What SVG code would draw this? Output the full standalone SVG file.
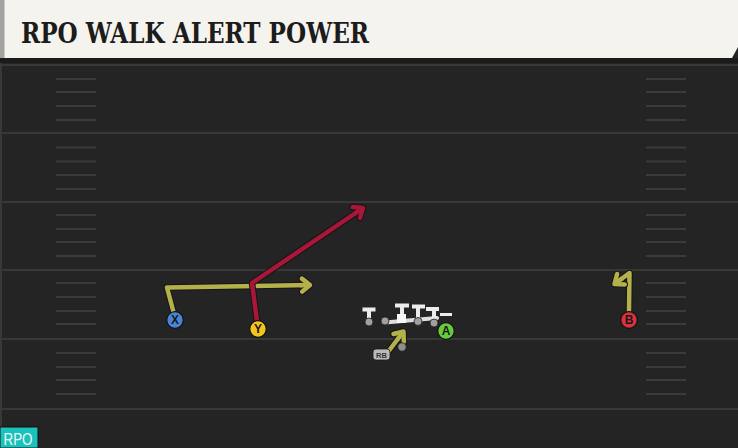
<svg xmlns="http://www.w3.org/2000/svg" width="738" height="448" viewBox="0 0 738 448">
<style>
.yl{stroke:#383838;stroke-width:2}
.hm{stroke:#3b3b3b;stroke-width:2}
.out{fill:none;stroke:#151515;stroke-width:6.5;stroke-linejoin:round}
.olive{fill:none;stroke:#b4b14b;stroke-width:4.5;stroke-linejoin:round}
.red{fill:none;stroke:#a8163a;stroke-width:4.5;stroke-linejoin:round}
.pl{stroke:#141414;stroke-width:1.3}
.lt{font-family:"Liberation Sans",Arial,sans-serif;font-weight:bold;font-size:12px;fill:#1a1a1a;text-anchor:middle}
.blk{fill:#ececec}
.dot{fill:#a0a0a0;stroke:#1e1e1e;stroke-width:0.8}
</style>
<defs>
<marker id="ao" markerUnits="userSpaceOnUse" orient="auto" refX="0" refY="0" markerWidth="1" markerHeight="1" style="overflow:visible">
<path d="M-8,-6.5 L0,0 L-8,6.5" fill="none" stroke="#151515" stroke-width="6.5" stroke-linejoin="round" stroke-linecap="round"/>
<path d="M-10,0 L0,0" fill="none" stroke="#b4b14b" stroke-width="4.5"/>
<path d="M-8,-6.5 L0,0 L-8,6.5" fill="none" stroke="#b4b14b" stroke-width="4.5" stroke-linejoin="round" stroke-linecap="round"/>
</marker>
<marker id="ar" markerUnits="userSpaceOnUse" orient="auto" refX="0" refY="0" markerWidth="1" markerHeight="1" style="overflow:visible">
<path d="M-8,-6.5 L0,0 L-8,6.5" fill="none" stroke="#151515" stroke-width="6.5" stroke-linejoin="round" stroke-linecap="round"/>
<path d="M-10,0 L0,0" fill="none" stroke="#a8163a" stroke-width="4.5"/>
<path d="M-8,-6.5 L0,0 L-8,6.5" fill="none" stroke="#a8163a" stroke-width="4.5" stroke-linejoin="round" stroke-linecap="round"/>
</marker>
</defs>

<g id="field">
<rect x="0" y="0" width="738" height="448" fill="#242424"/>
<rect x="0" y="58" width="738" height="5" fill="#1b1b1b"/>
<rect x="0" y="63" width="2" height="385" fill="#383838"/>
<g class="yl">
<line x1="0" y1="65" x2="738" y2="65"/>
<line x1="0" y1="133" x2="738" y2="133"/>
<line x1="0" y1="202" x2="738" y2="202"/>
<line x1="0" y1="270" x2="738" y2="270"/>
<line x1="0" y1="339" x2="738" y2="339"/>
<line x1="0" y1="409" x2="738" y2="409"/>
</g>
<g class="hm">
<path d="M56,79H96M56,92H96M56,106H96M56,120H96M56,147.5H96M56,161.5H96M56,175H96M56,189H96M56,215H96M56,229H96M56,242H96M56,256H96M56,283H96M56,297H96M56,311H96M56,324H96M56,353H96M56,367H96M56,380H96M56,394H96"/>
<path d="M646,79H686M646,92H686M646,106H686M646,120H686M646,147.5H686M646,161.5H686M646,175H686M646,189H686M646,215H686M646,229H686M646,242H686M646,256H686M646,283H686M646,297H686M646,311H686M646,324H686M646,353H686M646,367H686M646,380H686M646,394H686"/>
</g>
</g>

<g id="title">
<polygon points="0,0 738,0 738,47 732,58 0,58" fill="#f5f3ed"/>
<rect x="0" y="0" width="4.5" height="58" fill="#a2a2a2"/>
<text x="21" y="42.5" font-family="'DejaVu Serif',serif" font-weight="bold" font-size="27" fill="#1c1c1c" textLength="348" lengthAdjust="spacingAndGlyphs">RPO WALK ALERT POWER</text>
</g>

<g id="connectors">
<path class="out" d="M173.5,312 L167,287.5 L310,285"/>
<path class="olive" d="M173.5,312 L167,287.5 L310,285" marker-end="url(#ao)"/>
<path class="out" d="M257,321 L252,283 L363,208"/>
<path class="red" d="M257,321 L252,283 L363,208" marker-end="url(#ar)"/>
<path class="out" d="M629,311.5 L629.5,273 L614.5,284"/>
<path class="olive" d="M629,311.5 L629.5,273 L614.5,284" marker-end="url(#ao)"/>
<path class="out" d="M388,352 L403.5,331.5"/>
<path class="olive" d="M388,352 L403.5,331.5" marker-end="url(#ao)"/>
<path d="M385,322.5 L437,318" fill="none" stroke="#dedede" stroke-width="4.2" stroke-linecap="round"/>
</g>

<g id="LT">
<rect class="blk" x="362.5" y="307.5" width="13" height="4"/>
<rect class="blk" x="367" y="309.5" width="4" height="12"/>
<circle class="dot" cx="369" cy="322" r="4"/>
</g>
<g id="LG">
<circle class="dot" cx="385" cy="321" r="4"/>
</g>
<g id="C">
<rect class="blk" x="395" y="303.5" width="14" height="4"/>
<rect class="blk" x="400" y="305.5" width="4" height="10"/>
<rect x="397" y="314" width="9" height="9" fill="#f6f6f6"/>
</g>
<g id="RG">
<rect class="blk" x="412" y="304.5" width="13" height="4"/>
<rect class="blk" x="416" y="306.5" width="4" height="14"/>
<circle class="dot" cx="418" cy="321.5" r="4"/>
</g>
<g id="RT">
<rect class="blk" x="426" y="307" width="13" height="4"/>
<rect class="blk" x="432" y="309" width="4" height="13"/>
<circle class="dot" cx="434" cy="323" r="4"/>
</g>
<g id="QB">
<circle cx="402" cy="347" r="4.2" fill="#8e8e8e" stroke="#1e1e1e" stroke-width="0.8"/>
</g>
<g id="RB">
<rect x="373" y="349" width="17" height="11" rx="3" fill="#bababa" stroke="#1a1a1a" stroke-width="0.8"/>
<text x="381.5" y="357.5" font-family="'Liberation Sans',Arial,sans-serif" font-weight="bold" font-size="7.5" fill="#333" text-anchor="middle">RB</text>
</g>
<g id="X">
<circle class="pl" cx="175" cy="320" r="8.3" fill="#4a84d6"/>
<text class="lt" x="175" y="324.3">X</text>
</g>
<g id="Y">
<circle class="pl" cx="258" cy="329" r="8.3" fill="#f3c41b"/>
<text class="lt" x="258" y="333.3">Y</text>
</g>
<g id="A">
<rect class="blk" x="440" y="313" width="12" height="3"/>
<circle class="pl" cx="446" cy="331" r="8.3" fill="#68cb3c"/>
<text class="lt" x="446" y="335.3">A</text>
</g>
<g id="B">
<circle class="pl" cx="629" cy="320" r="8.3" fill="#de2f3f"/>
<text class="lt" x="629" y="324.3">B</text>
</g>

<g id="legend">
<rect x="0" y="427" width="38" height="21" fill="#1bc2bb" stroke="#111" stroke-width="1"/>
<text x="3.5" y="445" font-family="'Liberation Sans',Arial,sans-serif" font-size="16" fill="#eefafa" textLength="29" lengthAdjust="spacingAndGlyphs">RPO</text>
</g>
</svg>
